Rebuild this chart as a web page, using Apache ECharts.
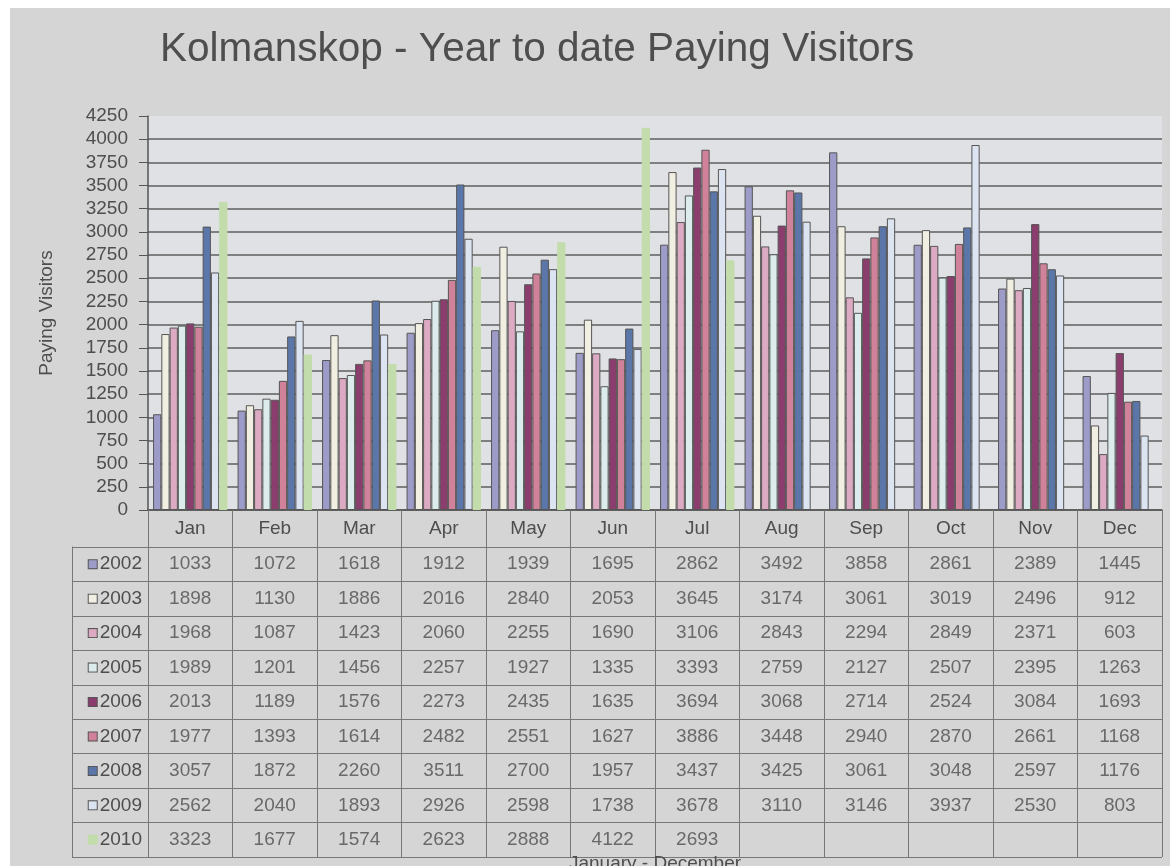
<!DOCTYPE html>
<html>
<head>
<meta charset="utf-8">
<title>Kolmanskop - Year to date Paying Visitors</title>
<script src="https://cdn.jsdelivr.net/npm/echarts@6/dist/echarts.min.js"></script>
<style>
  html, body { margin: 0; padding: 0; background: #fff; }
  #chart { position: absolute; left: 10px; top: 8px; width: 1160px; height: 858px; background: #d5d5d5; }
</style>
</head>
<body>
<div id="chart"></div>
<script>
// months + years
var months = ['Jan', 'Feb', 'Mar', 'Apr', 'May', 'Jun', 'Jul', 'Aug', 'Sep', 'Oct', 'Nov', 'Dec'];
var years = ['2002', '2003', '2004', '2005', '2006', '2007', '2008', '2009', '2010'];

var v2002 = [1033, 1072, 1618, 1912, 1939, 1695, 2862, 3492, 3858, 2861, 2389, 1445];
var v2003 = [1898, 1130, 1886, 2016, 2840, 2053, 3645, 3174, 3061, 3019, 2496, 912];
var v2004 = [1968, 1087, 1423, 2060, 2255, 1690, 3106, 2843, 2294, 2849, 2371, 603];
var v2005 = [1989, 1201, 1456, 2257, 1927, 1335, 3393, 2759, 2127, 2507, 2395, 1263];
var v2006 = [2013, 1189, 1576, 2273, 2435, 1635, 3694, 3068, 2714, 2524, 3084, 1693];
var v2007 = [1977, 1393, 1614, 2482, 2551, 1627, 3886, 3448, 2940, 2870, 2661, 1168];
var v2008 = [3057, 1872, 2260, 3511, 2700, 1957, 3437, 3425, 3061, 3048, 2597, 1176];
var v2009 = [2562, 2040, 1893, 2926, 2598, 1738, 3678, 3110, 3146, 3937, 2530, 803];
var v2010 = [3323, 1677, 1574, 2623, 2888, 4122, 2693];

var allValues = [v2002, v2003, v2004, v2005, v2006, v2007, v2008, v2009, v2010];
var colors = ['#9d9cc9', '#f1eee2', '#dcaac2', '#dcebeb', '#8b3e6d', '#d0829a', '#5b76a9', '#dde4f1', '#c3dcab'];

var txt = '#4e4e4e';
var font = 'Liberation Sans';

var chart = echarts.init(document.getElementById('chart'));

// bars
var series = [];
for (var i = 0; i < years.length; i++) {
  series.push({
    name: years[i],
    type: 'bar',
    xAxisIndex: 0,
    yAxisIndex: 0,
    barGap: '0%',
    barCategoryGap: '12%',
    itemStyle: {
      color: colors[i],
      borderColor: i === 8 ? colors[i] : '#555',
      borderWidth: 1
    },
    data: allValues[i]
  });
}

// table cells (value text placed on the table grid)
var cells = [];
for (var i = 0; i < years.length; i++) {
  for (var j = 0; j < allValues[i].length; j++) {
    cells.push([months[j], years[i], allValues[i][j]]);
  }
}
series.push({
  type: 'scatter',
  xAxisIndex: 1,
  yAxisIndex: 1,
  symbol: 'rect',
  symbolSize: 1,
  itemStyle: { color: 'transparent' },
  label: {
    show: true,
    position: 'inside',
    color: txt,
    fontSize: 19,
    fontFamily: font,
    formatter: function (p) { return p.value[2]; }
  },
  silent: true,
  data: cells
});

var richYears = { t: { color: txt, fontSize: 19, fontFamily: font, padding: [0, 0, 0, 3] } };
for (var i = 0; i < years.length; i++) {
  richYears['q' + i] = {
    width: 8, height: 8,
    backgroundColor: colors[i],
    borderColor: i === 8 ? colors[i] : '#555',
    borderWidth: 1
  };
}

var option = {
  animation: false,
  backgroundColor: '#d5d5d5',
  title: {
    text: 'Kolmanskop - Year to date Paying Visitors',
    left: 150,
    top: 21,
    padding: 0,
    textStyle: { fontSize: 40.5, fontWeight: 'normal', color: txt, fontFamily: font }
  },
  grid: [
    { left: 138, right: 8, top: 108, bottom: 356, outerBoundsMode: 'none', show: true, backgroundColor: '#e0e1e4', borderWidth: 0 },
    { left: 138, right: 8, top: 539, bottom: 9, outerBoundsMode: 'none' }
  ],
  xAxis: [
    {
      type: 'category',
      gridIndex: 0,
      data: months,
      axisLine: { lineStyle: { color: '#555', width: 1.5 } },
      axisTick: { show: true, length: 37, lineStyle: { color: '#777' } },
      axisLabel: { color: txt, fontSize: 19, fontFamily: font, margin: 9 }
    },
    {
      type: 'category',
      gridIndex: 1,
      data: months,
      name: 'January - December',
      nameLocation: 'middle',
      nameGap: -3,
      nameTextStyle: { color: txt, fontSize: 19, fontFamily: font },
      axisLine: { show: false },
      axisTick: { show: false },
      axisLabel: { show: false },
      splitLine: { show: true, interval: 0, lineStyle: { color: '#777', width: 1 } }
    }
  ],
  yAxis: [
    {
      type: 'value',
      gridIndex: 0,
      min: 0,
      max: 4250,
      interval: 250,
      name: 'Paying Visitors',
      nameLocation: 'middle',
      nameGap: 92,
      nameTextStyle: { color: txt, fontSize: 19, fontFamily: font },
      axisLine: { show: true, lineStyle: { color: '#555', width: 1.5 } },
      axisTick: { show: true, length: 9, lineStyle: { color: '#555' } },
      axisLabel: {
        color: txt, fontSize: 19, fontFamily: font, margin: 20, lineHeight: 19,
        formatter: function (v) { return String(v); }
      },
      splitLine: { show: true, showMaxLine: false, lineStyle: { color: '#5e5e5e', width: 1.5 } }
    },
    {
      type: 'category',
      gridIndex: 1,
      data: years,
      inverse: true,
      axisLine: { show: true, lineStyle: { color: '#777' } },
      axisTick: { show: true, length: 76, lineStyle: { color: '#777' } },
      axisLabel: {
        margin: 6,
        formatter: function (v, idx) { return '{q' + idx + '|}{t|' + v + '}'; },
        rich: richYears
      },
      splitLine: { show: true, interval: 0, lineStyle: { color: '#777', width: 1 } }
    },
    {
      type: 'category',
      gridIndex: 1,
      data: years,
      inverse: true,
      position: 'left',
      offset: 76,
      axisLine: { show: true, lineStyle: { color: '#777' } },
      axisTick: { show: false },
      axisLabel: { show: false }
    }
  ],
  series: series
};

chart.setOption(option);
</script>
</body>
</html>
